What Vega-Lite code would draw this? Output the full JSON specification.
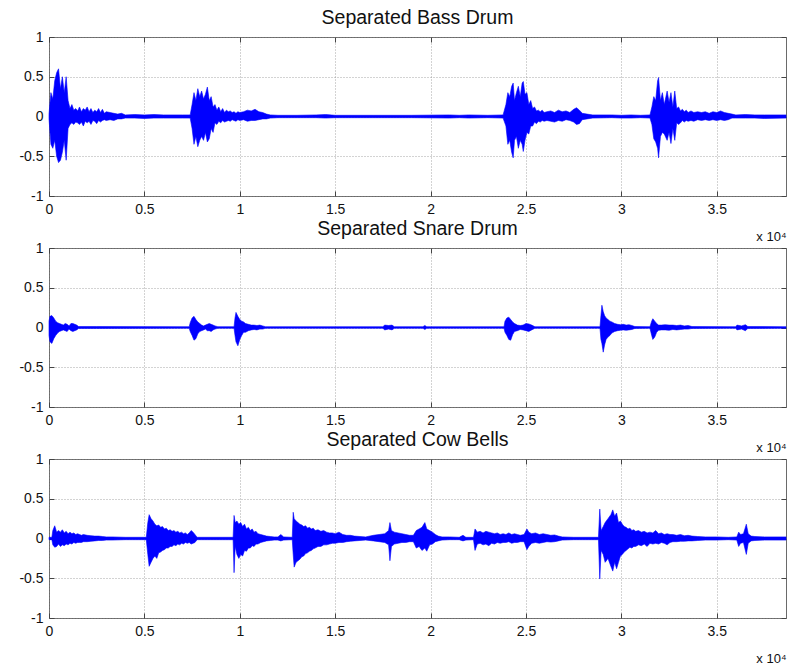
{
"$schema": "https://vega.github.io/schema/vega-lite/v6.json",
"background": "white",
"padding": {"left": 18, "top": 7, "right": 2, "bottom": 2},
"bounds": "flush",
"spacing": 52,
"config": {
 "font": "Liberation Sans",
 "view": {"stroke": "#6a6a6a", "strokeWidth": 1},
 "axis": {"domain": false, "grid": true, "gridColor": "#888888", "gridDash": [1, 2], "gridWidth": 1, "gridOpacity": 0.75, "tickColor": "#444", "tickSize": -5, "labelFont": "Liberation Sans", "labelFontSize": 14, "labelColor": "#111", "titleFont": "Liberation Sans", "titleFontWeight": "normal", "titleColor": "#111"},
 "title": {"font": "Liberation Sans", "fontSize": 19.5, "fontWeight": "normal", "color": "#111", "offset": 2, "anchor": "middle"}
},
"datasets": {
"bass": [
{"x":0,"hi":0.03,"lo":-0.03},{"x":100,"hi":0.3,"lo":-0.35},{"x":200,"hi":0.22,"lo":-0.4},{"x":300,"hi":0.45,"lo":-0.3},{"x":400,"hi":0.55,"lo":-0.5},{"x":500,"hi":0.6,"lo":-0.58},{"x":600,"hi":0.35,"lo":-0.55},{"x":700,"hi":0.5,"lo":-0.45},{"x":800,"hi":0.3,"lo":-0.3},{"x":900,"hi":0.5,"lo":-0.55},{"x":1000,"hi":0.2,"lo":-0.15},{"x":1100,"hi":0.1,"lo":-0.1},{"x":1200,"hi":0.15,"lo":-0.08},{"x":1300,"hi":0.08,"lo":-0.1},{"x":1400,"hi":0.1,"lo":-0.07},{"x":1500,"hi":0.07,"lo":-0.08},{"x":1600,"hi":0.12,"lo":-0.1},{"x":1700,"hi":0.06,"lo":-0.07},{"x":1800,"hi":0.1,"lo":-0.12},{"x":1900,"hi":0.08,"lo":-0.06},{"x":2000,"hi":0.12,"lo":-0.08},{"x":2100,"hi":0.06,"lo":-0.06},{"x":2200,"hi":0.1,"lo":-0.1},{"x":2300,"hi":0.05,"lo":-0.05},{"x":2400,"hi":0.08,"lo":-0.06},{"x":2500,"hi":0.06,"lo":-0.09},{"x":2600,"hi":0.1,"lo":-0.05},{"x":2700,"hi":0.05,"lo":-0.07},{"x":2800,"hi":0.09,"lo":-0.05},{"x":2900,"hi":0.04,"lo":-0.04},{"x":3000,"hi":0.06,"lo":-0.05},{"x":3200,"hi":0.05,"lo":-0.04},{"x":3400,"hi":0.04,"lo":-0.05},{"x":3600,"hi":0.03,"lo":-0.03},{"x":3800,"hi":0.04,"lo":-0.03},{"x":4000,"hi":0.02,"lo":-0.02},{"x":4500,"hi":0.025,"lo":-0.02},{"x":5000,"hi":0.02,"lo":-0.025},{"x":5500,"hi":0.025,"lo":-0.02},{"x":6000,"hi":0.02,"lo":-0.02},{"x":7000,"hi":0.02,"lo":-0.02},{"x":7400,"hi":0.02,"lo":-0.02},
{"x":7500,"hi":0.15,"lo":-0.15},{"x":7600,"hi":0.3,"lo":-0.35},{"x":7700,"hi":0.2,"lo":-0.25},{"x":7800,"hi":0.35,"lo":-0.38},{"x":7900,"hi":0.25,"lo":-0.3},{"x":8000,"hi":0.32,"lo":-0.25},{"x":8100,"hi":0.22,"lo":-0.3},{"x":8200,"hi":0.28,"lo":-0.2},{"x":8300,"hi":0.37,"lo":-0.32},{"x":8400,"hi":0.2,"lo":-0.28},{"x":8500,"hi":0.25,"lo":-0.15},{"x":8600,"hi":0.12,"lo":-0.2},{"x":8700,"hi":0.15,"lo":-0.08},{"x":8800,"hi":0.08,"lo":-0.1},{"x":8900,"hi":0.12,"lo":-0.06},{"x":9000,"hi":0.06,"lo":-0.08},{"x":9100,"hi":0.1,"lo":-0.05},{"x":9200,"hi":0.05,"lo":-0.07},{"x":9300,"hi":0.08,"lo":-0.06},{"x":9400,"hi":0.06,"lo":-0.05},{"x":9500,"hi":0.07,"lo":-0.06},{"x":9600,"hi":0.05,"lo":-0.04},{"x":9700,"hi":0.06,"lo":-0.05},{"x":9800,"hi":0.04,"lo":-0.06},{"x":9900,"hi":0.06,"lo":-0.04},{"x":10000,"hi":0.05,"lo":-0.05},{"x":10200,"hi":0.06,"lo":-0.04},{"x":10400,"hi":0.08,"lo":-0.06},{"x":10600,"hi":0.07,"lo":-0.05},{"x":10800,"hi":0.09,"lo":-0.05},{"x":11000,"hi":0.06,"lo":-0.04},{"x":11200,"hi":0.05,"lo":-0.03},{"x":11400,"hi":0.03,"lo":-0.03},{"x":11600,"hi":0.02,"lo":-0.02},{"x":12000,"hi":0.015,"lo":-0.015},{"x":13000,"hi":0.015,"lo":-0.015},{"x":14000,"hi":0.02,"lo":-0.015},{"x":14500,"hi":0.025,"lo":-0.02},{"x":15000,"hi":0.015,"lo":-0.015},{"x":17000,"hi":0.015,"lo":-0.015},{"x":19000,"hi":0.015,"lo":-0.015},{"x":21000,"hi":0.02,"lo":-0.02},{"x":21500,"hi":0.015,"lo":-0.015},{"x":22000,"hi":0.02,"lo":-0.02},{"x":23000,"hi":0.015,"lo":-0.015},{"x":23800,"hi":0.02,"lo":-0.02},
{"x":23950,"hi":0.15,"lo":-0.12},{"x":24050,"hi":0.3,"lo":-0.35},{"x":24150,"hi":0.25,"lo":-0.3},{"x":24250,"hi":0.38,"lo":-0.45},{"x":24330,"hi":0.42,"lo":-0.52},{"x":24400,"hi":0.2,"lo":-0.3},{"x":24500,"hi":0.3,"lo":-0.25},{"x":24600,"hi":0.38,"lo":-0.4},{"x":24700,"hi":0.25,"lo":-0.3},{"x":24800,"hi":0.42,"lo":-0.35},{"x":24860,"hi":0.44,"lo":-0.44},{"x":24950,"hi":0.28,"lo":-0.3},{"x":25050,"hi":0.3,"lo":-0.2},{"x":25150,"hi":0.15,"lo":-0.22},{"x":25250,"hi":0.2,"lo":-0.12},{"x":25350,"hi":0.1,"lo":-0.12},{"x":25450,"hi":0.12,"lo":-0.07},{"x":25550,"hi":0.07,"lo":-0.09},{"x":25650,"hi":0.08,"lo":-0.06},{"x":25750,"hi":0.06,"lo":-0.07},{"x":25850,"hi":0.08,"lo":-0.05},{"x":25950,"hi":0.05,"lo":-0.06},{"x":26100,"hi":0.06,"lo":-0.05},{"x":26300,"hi":0.07,"lo":-0.06},{"x":26500,"hi":0.05,"lo":-0.07},{"x":26700,"hi":0.08,"lo":-0.05},{"x":26900,"hi":0.06,"lo":-0.06},{"x":27100,"hi":0.07,"lo":-0.04},{"x":27300,"hi":0.05,"lo":-0.05},{"x":27500,"hi":0.09,"lo":-0.07},{"x":27650,"hi":0.11,"lo":-0.1},{"x":27800,"hi":0.08,"lo":-0.09},{"x":27950,"hi":0.04,"lo":-0.04},{"x":28200,"hi":0.03,"lo":-0.03},{"x":28500,"hi":0.02,"lo":-0.02},{"x":29500,"hi":0.02,"lo":-0.015},{"x":30000,"hi":0.015,"lo":-0.02},{"x":30500,"hi":0.02,"lo":-0.02},{"x":31000,"hi":0.015,"lo":-0.015},{"x":31500,"hi":0.02,"lo":-0.02},
{"x":31600,"hi":0.12,"lo":-0.1},{"x":31700,"hi":0.25,"lo":-0.28},{"x":31800,"hi":0.2,"lo":-0.32},{"x":31900,"hi":0.45,"lo":-0.4},{"x":31950,"hi":0.49,"lo":-0.52},{"x":32050,"hi":0.2,"lo":-0.25},{"x":32150,"hi":0.3,"lo":-0.2},{"x":32250,"hi":0.15,"lo":-0.22},{"x":32400,"hi":0.32,"lo":-0.3},{"x":32500,"hi":0.18,"lo":-0.2},{"x":32600,"hi":0.3,"lo":-0.34},{"x":32700,"hi":0.12,"lo":-0.15},{"x":32800,"hi":0.32,"lo":-0.3},{"x":32900,"hi":0.1,"lo":-0.08},{"x":33000,"hi":0.12,"lo":-0.1},{"x":33100,"hi":0.07,"lo":-0.08},{"x":33200,"hi":0.09,"lo":-0.05},{"x":33300,"hi":0.06,"lo":-0.07},{"x":33400,"hi":0.08,"lo":-0.05},{"x":33500,"hi":0.05,"lo":-0.06},{"x":33650,"hi":0.07,"lo":-0.05},{"x":33800,"hi":0.05,"lo":-0.06},{"x":34000,"hi":0.06,"lo":-0.04},{"x":34200,"hi":0.05,"lo":-0.05},{"x":34400,"hi":0.06,"lo":-0.04},{"x":34600,"hi":0.04,"lo":-0.05},{"x":34800,"hi":0.06,"lo":-0.04},{"x":35000,"hi":0.05,"lo":-0.05},{"x":35200,"hi":0.07,"lo":-0.04},{"x":35400,"hi":0.05,"lo":-0.05},{"x":35600,"hi":0.04,"lo":-0.04},{"x":35800,"hi":0.03,"lo":-0.02},{"x":36000,"hi":0.02,"lo":-0.02},{"x":36500,"hi":0.025,"lo":-0.02},{"x":37000,"hi":0.02,"lo":-0.02},{"x":37500,"hi":0.02,"lo":-0.025},{"x":38630,"hi":0.02,"lo":-0.02}
],
"snare": [
{"x":0,"hi":0.08,"lo":-0.1},{"x":50,"hi":0.14,"lo":-0.18},{"x":150,"hi":0.15,"lo":-0.2},{"x":250,"hi":0.12,"lo":-0.14},{"x":350,"hi":0.08,"lo":-0.1},{"x":450,"hi":0.06,"lo":-0.07},{"x":550,"hi":0.05,"lo":-0.05},{"x":650,"hi":0.04,"lo":-0.04},{"x":750,"hi":0.03,"lo":-0.03},{"x":850,"hi":0.05,"lo":-0.04},{"x":950,"hi":0.04,"lo":-0.05},{"x":1050,"hi":0.02,"lo":-0.02},{"x":1150,"hi":0.05,"lo":-0.04},{"x":1250,"hi":0.05,"lo":-0.05},{"x":1350,"hi":0.04,"lo":-0.04},{"x":1450,"hi":0.03,"lo":-0.03},{"x":1550,"hi":0.012,"lo":-0.012},{"x":2500,"hi":0.012,"lo":-0.012},{"x":7350,"hi":0.01,"lo":-0.01},
{"x":7400,"hi":0.06,"lo":-0.05},{"x":7500,"hi":0.12,"lo":-0.1},{"x":7600,"hi":0.14,"lo":-0.16},{"x":7700,"hi":0.1,"lo":-0.14},{"x":7800,"hi":0.07,"lo":-0.08},{"x":7900,"hi":0.05,"lo":-0.05},{"x":8000,"hi":0.03,"lo":-0.04},{"x":8100,"hi":0.02,"lo":-0.03},{"x":8200,"hi":0.03,"lo":-0.02},{"x":8300,"hi":0.04,"lo":-0.04},{"x":8400,"hi":0.05,"lo":-0.04},{"x":8500,"hi":0.04,"lo":-0.05},{"x":8600,"hi":0.03,"lo":-0.03},{"x":8700,"hi":0.02,"lo":-0.02},{"x":8850,"hi":0.01,"lo":-0.01},{"x":9700,"hi":0.01,"lo":-0.01},
{"x":9750,"hi":0.12,"lo":-0.1},{"x":9800,"hi":0.19,"lo":-0.18},{"x":9900,"hi":0.14,"lo":-0.23},{"x":10000,"hi":0.1,"lo":-0.15},{"x":10100,"hi":0.08,"lo":-0.1},{"x":10200,"hi":0.07,"lo":-0.06},{"x":10300,"hi":0.05,"lo":-0.06},{"x":10450,"hi":0.04,"lo":-0.04},{"x":10600,"hi":0.03,"lo":-0.03},{"x":10750,"hi":0.03,"lo":-0.025},{"x":10900,"hi":0.025,"lo":-0.03},{"x":11050,"hi":0.03,"lo":-0.02},{"x":11200,"hi":0.02,"lo":-0.02},{"x":11350,"hi":0.01,"lo":-0.01},{"x":17500,"hi":0.01,"lo":-0.01},{"x":17600,"hi":0.03,"lo":-0.03},{"x":17800,"hi":0.025,"lo":-0.02},{"x":17980,"hi":0.03,"lo":-0.03},{"x":18100,"hi":0.01,"lo":-0.01},{"x":19600,"hi":0.01,"lo":-0.01},{"x":19700,"hi":0.025,"lo":-0.025},{"x":19800,"hi":0.01,"lo":-0.01},{"x":23850,"hi":0.01,"lo":-0.01},
{"x":23900,"hi":0.08,"lo":-0.06},{"x":24000,"hi":0.12,"lo":-0.1},{"x":24100,"hi":0.13,"lo":-0.15},{"x":24200,"hi":0.1,"lo":-0.16},{"x":24300,"hi":0.07,"lo":-0.09},{"x":24400,"hi":0.05,"lo":-0.05},{"x":24550,"hi":0.03,"lo":-0.04},{"x":24700,"hi":0.025,"lo":-0.025},{"x":24850,"hi":0.03,"lo":-0.03},{"x":25000,"hi":0.05,"lo":-0.04},{"x":25150,"hi":0.045,"lo":-0.05},{"x":25300,"hi":0.03,"lo":-0.03},{"x":25470,"hi":0.01,"lo":-0.01},{"x":28880,"hi":0.01,"lo":-0.01},
{"x":28930,"hi":0.15,"lo":-0.15},{"x":28980,"hi":0.28,"lo":-0.2},{"x":29050,"hi":0.2,"lo":-0.31},{"x":29120,"hi":0.15,"lo":-0.22},{"x":29200,"hi":0.12,"lo":-0.15},{"x":29300,"hi":0.1,"lo":-0.12},{"x":29400,"hi":0.08,"lo":-0.1},{"x":29500,"hi":0.07,"lo":-0.07},{"x":29650,"hi":0.05,"lo":-0.05},{"x":29800,"hi":0.04,"lo":-0.04},{"x":29950,"hi":0.035,"lo":-0.035},{"x":30100,"hi":0.04,"lo":-0.03},{"x":30250,"hi":0.03,"lo":-0.035},{"x":30400,"hi":0.035,"lo":-0.03},{"x":30550,"hi":0.025,"lo":-0.025},{"x":30710,"hi":0.012,"lo":-0.012},{"x":31500,"hi":0.01,"lo":-0.01},
{"x":31590,"hi":0.08,"lo":-0.1},{"x":31650,"hi":0.11,"lo":-0.15},{"x":31750,"hi":0.08,"lo":-0.12},{"x":31850,"hi":0.05,"lo":-0.06},{"x":31950,"hi":0.03,"lo":-0.035},{"x":32100,"hi":0.03,"lo":-0.03},{"x":32300,"hi":0.035,"lo":-0.03},{"x":32500,"hi":0.03,"lo":-0.035},{"x":32700,"hi":0.03,"lo":-0.025},{"x":32900,"hi":0.025,"lo":-0.03},{"x":33100,"hi":0.03,"lo":-0.025},{"x":33300,"hi":0.02,"lo":-0.02},{"x":33500,"hi":0.025,"lo":-0.02},{"x":33700,"hi":0.012,"lo":-0.012},{"x":36000,"hi":0.01,"lo":-0.01},{"x":36060,"hi":0.03,"lo":-0.03},{"x":36300,"hi":0.02,"lo":-0.02},{"x":36500,"hi":0.035,"lo":-0.04},{"x":36630,"hi":0.012,"lo":-0.012},{"x":38630,"hi":0.01,"lo":-0.01}
],
"bells": [
{"x":0,"hi":0.015,"lo":-0.015},{"x":150,"hi":0.015,"lo":-0.015},{"x":200,"hi":0.1,"lo":-0.08},{"x":300,"hi":0.16,"lo":-0.11},{"x":400,"hi":0.08,"lo":-0.1},{"x":500,"hi":0.1,"lo":-0.07},{"x":600,"hi":0.08,"lo":-0.1},{"x":700,"hi":0.11,"lo":-0.08},{"x":800,"hi":0.07,"lo":-0.09},{"x":900,"hi":0.09,"lo":-0.07},{"x":1000,"hi":0.06,"lo":-0.08},{"x":1100,"hi":0.08,"lo":-0.06},{"x":1200,"hi":0.06,"lo":-0.07},{"x":1300,"hi":0.07,"lo":-0.05},{"x":1400,"hi":0.05,"lo":-0.06},{"x":1500,"hi":0.06,"lo":-0.05},{"x":1600,"hi":0.05,"lo":-0.05},{"x":1700,"hi":0.04,"lo":-0.05},{"x":1800,"hi":0.05,"lo":-0.04},{"x":2000,"hi":0.04,"lo":-0.04},{"x":2200,"hi":0.035,"lo":-0.035},{"x":2400,"hi":0.03,"lo":-0.03},{"x":2600,"hi":0.03,"lo":-0.025},{"x":2800,"hi":0.025,"lo":-0.025},{"x":3000,"hi":0.02,"lo":-0.02},{"x":3300,"hi":0.02,"lo":-0.02},{"x":4000,"hi":0.015,"lo":-0.015},{"x":5100,"hi":0.015,"lo":-0.015},
{"x":5180,"hi":0.2,"lo":-0.2},{"x":5250,"hi":0.3,"lo":-0.35},{"x":5350,"hi":0.25,"lo":-0.3},{"x":5450,"hi":0.22,"lo":-0.25},{"x":5550,"hi":0.18,"lo":-0.22},{"x":5650,"hi":0.16,"lo":-0.25},{"x":5750,"hi":0.17,"lo":-0.18},{"x":5850,"hi":0.14,"lo":-0.17},{"x":5950,"hi":0.15,"lo":-0.15},{"x":6050,"hi":0.12,"lo":-0.14},{"x":6150,"hi":0.13,"lo":-0.12},{"x":6250,"hi":0.1,"lo":-0.12},{"x":6350,"hi":0.11,"lo":-0.1},{"x":6450,"hi":0.09,"lo":-0.1},{"x":6550,"hi":0.1,"lo":-0.08},{"x":6650,"hi":0.08,"lo":-0.09},{"x":6750,"hi":0.09,"lo":-0.07},{"x":6850,"hi":0.07,"lo":-0.08},{"x":6950,"hi":0.08,"lo":-0.06},{"x":7050,"hi":0.06,"lo":-0.07},{"x":7150,"hi":0.07,"lo":-0.05},{"x":7250,"hi":0.05,"lo":-0.06},{"x":7350,"hi":0.07,"lo":-0.05},{"x":7450,"hi":0.1,"lo":-0.07},{"x":7550,"hi":0.08,"lo":-0.06},{"x":7650,"hi":0.05,"lo":-0.05},{"x":7760,"hi":0.015,"lo":-0.015},{"x":9650,"hi":0.015,"lo":-0.015},
{"x":9700,"hi":0.29,"lo":-0.43},{"x":9760,"hi":0.2,"lo":-0.1},{"x":9850,"hi":0.22,"lo":-0.2},{"x":9950,"hi":0.18,"lo":-0.25},{"x":10050,"hi":0.2,"lo":-0.2},{"x":10150,"hi":0.15,"lo":-0.22},{"x":10250,"hi":0.18,"lo":-0.15},{"x":10350,"hi":0.12,"lo":-0.16},{"x":10450,"hi":0.14,"lo":-0.12},{"x":10550,"hi":0.1,"lo":-0.12},{"x":10650,"hi":0.12,"lo":-0.09},{"x":10750,"hi":0.08,"lo":-0.1},{"x":10850,"hi":0.09,"lo":-0.07},{"x":10950,"hi":0.06,"lo":-0.07},{"x":11100,"hi":0.05,"lo":-0.05},{"x":11250,"hi":0.04,"lo":-0.04},{"x":11400,"hi":0.03,"lo":-0.03},{"x":11600,"hi":0.025,"lo":-0.025},{"x":11800,"hi":0.02,"lo":-0.02},{"x":12000,"hi":0.02,"lo":-0.02},{"x":12150,"hi":0.05,"lo":-0.03},{"x":12300,"hi":0.02,"lo":-0.02},{"x":12750,"hi":0.015,"lo":-0.015},
{"x":12800,"hi":0.33,"lo":-0.2},{"x":12850,"hi":0.25,"lo":-0.36},{"x":12950,"hi":0.22,"lo":-0.3},{"x":13050,"hi":0.2,"lo":-0.28},{"x":13150,"hi":0.18,"lo":-0.26},{"x":13250,"hi":0.17,"lo":-0.23},{"x":13350,"hi":0.15,"lo":-0.22},{"x":13450,"hi":0.16,"lo":-0.19},{"x":13550,"hi":0.13,"lo":-0.18},{"x":13650,"hi":0.14,"lo":-0.16},{"x":13750,"hi":0.12,"lo":-0.15},{"x":13850,"hi":0.13,"lo":-0.13},{"x":13950,"hi":0.1,"lo":-0.12},{"x":14100,"hi":0.11,"lo":-0.1},{"x":14250,"hi":0.09,"lo":-0.1},{"x":14400,"hi":0.1,"lo":-0.08},{"x":14550,"hi":0.08,"lo":-0.08},{"x":14700,"hi":0.07,"lo":-0.07},{"x":14850,"hi":0.07,"lo":-0.06},{"x":15000,"hi":0.06,"lo":-0.06},{"x":15200,"hi":0.08,"lo":-0.05},{"x":15400,"hi":0.05,"lo":-0.05},{"x":15600,"hi":0.04,"lo":-0.04},{"x":15800,"hi":0.04,"lo":-0.035},{"x":16000,"hi":0.03,"lo":-0.03},{"x":16300,"hi":0.025,"lo":-0.025},{"x":16600,"hi":0.02,"lo":-0.02},{"x":17000,"hi":0.04,"lo":-0.03},{"x":17300,"hi":0.05,"lo":-0.04},{"x":17600,"hi":0.06,"lo":-0.05},{"x":17800,"hi":0.1,"lo":-0.08},{"x":17870,"hi":0.2,"lo":-0.28},{"x":17950,"hi":0.1,"lo":-0.1},{"x":18100,"hi":0.08,"lo":-0.07},{"x":18300,"hi":0.07,"lo":-0.06},{"x":18500,"hi":0.06,"lo":-0.05},{"x":18700,"hi":0.05,"lo":-0.05},{"x":18900,"hi":0.04,"lo":-0.04},{"x":19100,"hi":0.04,"lo":-0.04},{"x":19250,"hi":0.1,"lo":-0.12},{"x":19400,"hi":0.12,"lo":-0.1},{"x":19550,"hi":0.14,"lo":-0.15},{"x":19700,"hi":0.2,"lo":-0.12},{"x":19800,"hi":0.12,"lo":-0.16},{"x":19950,"hi":0.1,"lo":-0.08},{"x":20100,"hi":0.08,"lo":-0.07},{"x":20250,"hi":0.05,"lo":-0.04},{"x":20400,"hi":0.03,"lo":-0.03},{"x":20600,"hi":0.02,"lo":-0.02},{"x":21000,"hi":0.02,"lo":-0.015},{"x":21500,"hi":0.015,"lo":-0.015},{"x":21700,"hi":0.04,"lo":-0.03},{"x":21850,"hi":0.015,"lo":-0.02},{"x":22250,"hi":0.015,"lo":-0.015},
{"x":22330,"hi":0.12,"lo":-0.15},{"x":22450,"hi":0.08,"lo":-0.07},{"x":22600,"hi":0.09,"lo":-0.06},{"x":22750,"hi":0.07,"lo":-0.08},{"x":22900,"hi":0.09,"lo":-0.07},{"x":23050,"hi":0.08,"lo":-0.09},{"x":23200,"hi":0.07,"lo":-0.06},{"x":23350,"hi":0.06,"lo":-0.07},{"x":23500,"hi":0.07,"lo":-0.05},{"x":23650,"hi":0.05,"lo":-0.06},{"x":23800,"hi":0.06,"lo":-0.05},{"x":23950,"hi":0.05,"lo":-0.05},{"x":24100,"hi":0.07,"lo":-0.04},{"x":24250,"hi":0.05,"lo":-0.06},{"x":24400,"hi":0.06,"lo":-0.05},{"x":24550,"hi":0.05,"lo":-0.05},{"x":24700,"hi":0.04,"lo":-0.04},{"x":24900,"hi":0.05,"lo":-0.04},{"x":25050,"hi":0.12,"lo":-0.14},{"x":25150,"hi":0.08,"lo":-0.1},{"x":25300,"hi":0.06,"lo":-0.06},{"x":25500,"hi":0.07,"lo":-0.05},{"x":25700,"hi":0.05,"lo":-0.06},{"x":25900,"hi":0.06,"lo":-0.05},{"x":26100,"hi":0.05,"lo":-0.04},{"x":26300,"hi":0.04,"lo":-0.045},{"x":26500,"hi":0.045,"lo":-0.04},{"x":26700,"hi":0.03,"lo":-0.03},{"x":26900,"hi":0.02,"lo":-0.02},{"x":27500,"hi":0.015,"lo":-0.015},{"x":28800,"hi":0.015,"lo":-0.015},
{"x":28870,"hi":0.37,"lo":-0.51},{"x":28940,"hi":0.1,"lo":-0.15},{"x":29050,"hi":0.15,"lo":-0.2},{"x":29150,"hi":0.2,"lo":-0.3},{"x":29300,"hi":0.25,"lo":-0.25},{"x":29450,"hi":0.3,"lo":-0.35},{"x":29550,"hi":0.36,"lo":-0.41},{"x":29650,"hi":0.28,"lo":-0.3},{"x":29750,"hi":0.32,"lo":-0.38},{"x":29850,"hi":0.2,"lo":-0.3},{"x":29950,"hi":0.22,"lo":-0.22},{"x":30050,"hi":0.18,"lo":-0.2},{"x":30150,"hi":0.15,"lo":-0.17},{"x":30250,"hi":0.14,"lo":-0.15},{"x":30350,"hi":0.12,"lo":-0.13},{"x":30450,"hi":0.13,"lo":-0.11},{"x":30550,"hi":0.1,"lo":-0.12},{"x":30650,"hi":0.11,"lo":-0.1},{"x":30750,"hi":0.09,"lo":-0.1},{"x":30900,"hi":0.1,"lo":-0.08},{"x":31050,"hi":0.08,"lo":-0.09},{"x":31200,"hi":0.09,"lo":-0.07},{"x":31350,"hi":0.07,"lo":-0.1},{"x":31500,"hi":0.08,"lo":-0.06},{"x":31650,"hi":0.07,"lo":-0.07},{"x":31800,"hi":0.1,"lo":-0.06},{"x":31950,"hi":0.06,"lo":-0.07},{"x":32100,"hi":0.07,"lo":-0.05},{"x":32250,"hi":0.05,"lo":-0.06},{"x":32400,"hi":0.06,"lo":-0.08},{"x":32550,"hi":0.05,"lo":-0.05},{"x":32700,"hi":0.05,"lo":-0.04},{"x":32900,"hi":0.04,"lo":-0.04},{"x":33100,"hi":0.05,"lo":-0.035},{"x":33300,"hi":0.035,"lo":-0.035},{"x":33500,"hi":0.04,"lo":-0.03},{"x":33700,"hi":0.03,"lo":-0.03},{"x":34000,"hi":0.025,"lo":-0.025},{"x":34400,"hi":0.02,"lo":-0.02},{"x":35000,"hi":0.02,"lo":-0.02},{"x":35600,"hi":0.015,"lo":-0.015},{"x":36050,"hi":0.02,"lo":-0.02},{"x":36150,"hi":0.08,"lo":-0.1},{"x":36250,"hi":0.05,"lo":-0.06},{"x":36400,"hi":0.06,"lo":-0.05},{"x":36550,"hi":0.18,"lo":-0.2},{"x":36650,"hi":0.06,"lo":-0.06},{"x":36800,"hi":0.03,"lo":-0.03},{"x":37000,"hi":0.025,"lo":-0.025},{"x":37500,"hi":0.02,"lo":-0.02},{"x":38630,"hi":0.02,"lo":-0.02}
]
},
"vconcat": [
{"title": "Separated Bass Drum", "width": 737, "height": 159, "data": {"name": "bass"},
 "layer": [
  {"mark": {"type": "area", "color": "#0000ff", "stroke": "#0000ff", "strokeWidth": 0.6, "opacity": 1},
   "encoding": {
    "x": {"field": "x", "type": "quantitative", "scale": {"domain": [0, 38630], "nice": false, "zero": false}, "axis": {"values": [0,5000,10000,15000,20000,25000,30000,35000], "labelExpr": "datum.value / 10000 + ''", "labelFlush": false, "labelPadding": 11.5, "title": "x 10⁴", "titleAnchor": "end", "titleAlign": "right", "titleBaseline": "top", "titleY": 34, "titleFontSize": 13}},
    "y": {"field": "hi", "type": "quantitative", "scale": {"domain": [-1, 1], "nice": false}, "axis": {"values": [-1,-0.5,0,0.5,1], "labelExpr": "datum.value + ''", "labelPadding": 11, "title": null}},
    "y2": {"field": "lo"}}},
  {"mark": {"type": "point", "opacity": 0},
   "encoding": {
    "x": {"field": "x", "type": "quantitative", "scale": {"domain": [0, 38630], "nice": false, "zero": false}, "axis": {"orient": "top", "values": [0,5000,10000,15000,20000,25000,30000,35000], "labels": false, "grid": false, "title": null}},
    "y": {"field": "hi", "type": "quantitative", "scale": {"domain": [-1, 1], "nice": false}, "axis": {"orient": "right", "values": [-1,-0.5,0,0.5,1], "labels": false, "grid": false, "title": null}}}}
 ],
 "resolve": {"axis": {"x": "independent", "y": "independent"}}},
{"title": "Separated Snare Drum", "width": 737, "height": 159, "data": {"name": "snare"},
 "layer": [
  {"mark": {"type": "area", "color": "#0000ff", "stroke": "#0000ff", "strokeWidth": 0.6, "opacity": 1},
   "encoding": {
    "x": {"field": "x", "type": "quantitative", "scale": {"domain": [0, 38630], "nice": false, "zero": false}, "axis": {"values": [0,5000,10000,15000,20000,25000,30000,35000], "labelExpr": "datum.value / 10000 + ''", "labelFlush": false, "labelPadding": 11.5, "title": "x 10⁴", "titleAnchor": "end", "titleAlign": "right", "titleBaseline": "top", "titleY": 34, "titleFontSize": 13}},
    "y": {"field": "hi", "type": "quantitative", "scale": {"domain": [-1, 1], "nice": false}, "axis": {"values": [-1,-0.5,0,0.5,1], "labelExpr": "datum.value + ''", "labelPadding": 11, "title": null}},
    "y2": {"field": "lo"}}},
  {"mark": {"type": "point", "opacity": 0},
   "encoding": {
    "x": {"field": "x", "type": "quantitative", "scale": {"domain": [0, 38630], "nice": false, "zero": false}, "axis": {"orient": "top", "values": [0,5000,10000,15000,20000,25000,30000,35000], "labels": false, "grid": false, "title": null}},
    "y": {"field": "hi", "type": "quantitative", "scale": {"domain": [-1, 1], "nice": false}, "axis": {"orient": "right", "values": [-1,-0.5,0,0.5,1], "labels": false, "grid": false, "title": null}}}}
 ],
 "resolve": {"axis": {"x": "independent", "y": "independent"}}},
{"title": "Separated Cow Bells", "width": 737, "height": 159, "data": {"name": "bells"},
 "layer": [
  {"mark": {"type": "area", "color": "#0000ff", "stroke": "#0000ff", "strokeWidth": 0.6, "opacity": 1},
   "encoding": {
    "x": {"field": "x", "type": "quantitative", "scale": {"domain": [0, 38630], "nice": false, "zero": false}, "axis": {"values": [0,5000,10000,15000,20000,25000,30000,35000], "labelExpr": "datum.value / 10000 + ''", "labelFlush": false, "labelPadding": 11.5, "title": "x 10⁴", "titleAnchor": "end", "titleAlign": "right", "titleBaseline": "top", "titleY": 34, "titleFontSize": 13}},
    "y": {"field": "hi", "type": "quantitative", "scale": {"domain": [-1, 1], "nice": false}, "axis": {"values": [-1,-0.5,0,0.5,1], "labelExpr": "datum.value + ''", "labelPadding": 11, "title": null}},
    "y2": {"field": "lo"}}},
  {"mark": {"type": "point", "opacity": 0},
   "encoding": {
    "x": {"field": "x", "type": "quantitative", "scale": {"domain": [0, 38630], "nice": false, "zero": false}, "axis": {"orient": "top", "values": [0,5000,10000,15000,20000,25000,30000,35000], "labels": false, "grid": false, "title": null}},
    "y": {"field": "hi", "type": "quantitative", "scale": {"domain": [-1, 1], "nice": false}, "axis": {"orient": "right", "values": [-1,-0.5,0,0.5,1], "labels": false, "grid": false, "title": null}}}}
 ],
 "resolve": {"axis": {"x": "independent", "y": "independent"}}}
]
}
